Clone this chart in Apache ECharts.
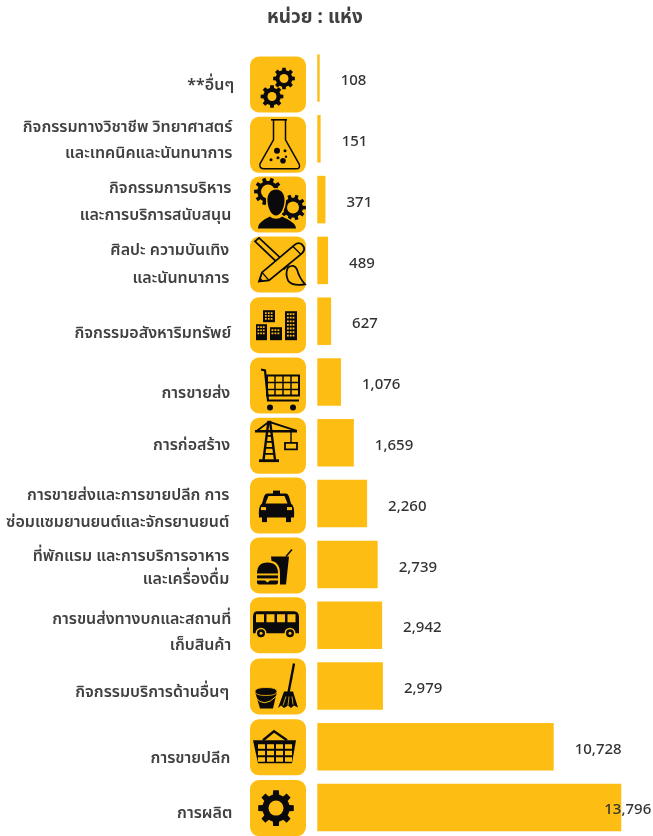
<!DOCTYPE html>
<html>
<head>
<meta charset="utf-8">
<title>หน่วย : แห่ง</title>
<script src="https://cdn.jsdelivr.net/npm/echarts@6/dist/echarts.min.js"></script>
<style>
  html, body { margin: 0; padding: 0; background: #fff; }
  #chart { width: 653px; height: 836px; }
</style>
</head>
<body>
<div id="chart"></div>
<script>
const categories = [
  '**อื่นๆ',
  'กิจกรรมทางวิชาชีพ วิทยาศาสตร์\nและเทคนิคและนันทนาการ',
  'กิจกรรมการบริหาร\nและการบริการสนับสนุน',
  'ศิลปะ ความบันเทิง\nและนันทนาการ',
  'กิจกรรมอสังหาริมทรัพย์',
  'การขายส่ง',
  'การก่อสร้าง',
  'การขายส่งและการขายปลีก การ\nซ่อมแซมยานยนต์และจักรยานยนต์',
  'ที่พักแรม และการบริการอาหาร\nและเครื่องดื่ม',
  'การขนส่งทางบกและสถานที่\nเก็บสินค้า',
  'กิจกรรมบริการด้านอื่นๆ',
  'การขายปลีก',
  'การผลิต',
];
const values = [108, 151, 371, 489, 627, 1076, 1659, 2260, 2739, 2942, 2979, 10728, 13796];

// hand placed in the original, so every row has its own small offset
const labelDrop = [7, 2, 2, 4, 12, 11, 3, 5, 3.5, 7, 6, 12, 6];
const labelGap = [83, 85, 86, 88, 86, 87, 87, 88, 88, 86, 88, 87, 85];
const lineGap = [0, 26, 27, 28, 0, 0, 0, 27, 23, 26, 0, 0, 0];
const iconDrop = [6.5, 6, 5, 4, 4, 3.5, 3, 2, 1, 0, 0.5, 0.5, 0.5];

const YELLOW = '#fdbd12';
const INK = '#0a0a0c';
const TEXT = '#404040';
const FONT = '"Noto Sans", "Noto Sans Thai", Tahoma, sans-serif';

// icon helpers, everything in a 56x56 box
function rect(x, y, w, h) {
  return `M${x} ${y}h${w}v${h}h${-w}Z`;
}
function circle(x, y, r) {
  return `M${x - r} ${y}a${r} ${r} 0 1 0 ${2 * r} 0a${r} ${r} 0 1 0 ${-2 * r} 0Z`;
}
function gear(x, y, r, n) {
  let d = '';
  const root = r * 0.76;
  const step = (Math.PI * 2) / n;
  for (let i = 0; i < n; i++) {
    const a = i * step;
    const pts = [
      [root, a - step * 0.5],
      [root, a - step * 0.3],
      [r, a - step * 0.2],
      [r, a + step * 0.2],
      [root, a + step * 0.3],
    ];
    pts.forEach((p, j) => {
      const px = (x + p[0] * Math.cos(p[1])).toFixed(2);
      const py = (y + p[0] * Math.sin(p[1])).toFixed(2);
      d += (i === 0 && j === 0 ? 'M' : 'L') + px + ' ' + py;
    });
  }
  return d + 'Z';
}
function cells(x, y, cols, rows, w, h, gx, gy) {
  let d = '';
  for (let r = 0; r < rows; r++) {
    for (let c = 0; c < cols; c++) {
      d += rect(x + c * (w + gx), y + r * (h + gy), w, h);
    }
  }
  return d;
}
const fill = (d) => ({ d, fill: INK });
const hole = (d) => ({ d, fill: YELLOW });
const line = (d, w) => ({ d, stroke: INK, w });
const cut = (d, w) => ({ d, stroke: YELLOW, w });

const person =
  'M26 13C32 13 35 18 34.5 25C34 32 30.5 39 26 39C21.5 39 18 32 17.5 25C17 18 20 13 26 13Z' +
  'M8 52C8 47 12 44 20 40C23 43 29 43 32 40C40 44 46 47 46 52Z';

const icons = [
  // gears
  [fill(gear(34, 22, 11, 8)), hole(circle(34, 22, 4.5)), fill(gear(22, 40, 11.5, 8)), hole(circle(22, 40, 4.5))],
  // flask
  [
    line('M21 3H37', 1.6),
    line('M23.5 3V23L10 47Q9 52 14 52H46Q51 52 49 47L35.5 23V3', 1.5),
    fill(circle(27, 34, 3)), fill(circle(33, 44, 2.8)), fill(circle(35, 34, 1.5)),
    fill(circle(21, 43, 1.5)), fill(circle(28, 41, 1.5)), fill(circle(36, 40, 1.2)),
  ],
  // person with gears
  [
    fill(gear(18, 15, 14, 10)), hole(circle(18, 15, 7)),
    fill(gear(43, 31, 13, 10)), hole(circle(43, 31, 6)),
    cut(person, 3), fill(person),
  ],
  // pencil and brush
  [
    line('M5 5L9 1.5L38 28.5L34 32.5Z', 1.8),
    { d: 'M38 31Q44 27 47 33Q49 41 55 48Q42 50 38 44Q35 37 38 31Z', fill: YELLOW, stroke: INK, w: 1.8 },
    { d: 'M9 45L12 36L44 9Q48 5 52 8L54 11Q55 14 52 17L19 44Z', fill: YELLOW, stroke: INK, w: 1.8 },
    line('M12 36L19 44M43 10L51 18', 1.4),
    fill('M9 45L10 41L13 44Z'),
  ],
  // buildings
  [
    fill(rect(13, 13, 12, 12)), hole(cells(15, 15, 3, 3, 1.7, 1.7, 1.2, 1.2)),
    cut(rect(6, 27, 11, 16), 2), fill(rect(6, 27, 11, 16)), hole(cells(7.5, 29, 3, 3, 1.7, 1.7, 1, 1.5)),
    fill(rect(20, 30, 12, 13)), hole(cells(21.5, 32, 3, 2, 1.8, 1.8, 1.2, 1.5)),
    fill(rect(35, 14, 12, 29)), hole(cells(37, 16, 3, 7, 1.8, 1.8, 1, 1.8)),
  ],
  // cart
  [
    line('M11 12L15 13L18 43H49', 2.2),
    line(rect(17, 18, 32, 20), 2),
    line('M25 18V38M33 18V38M41 18V38M17 25H49M17 32H49', 1.5),
    fill(circle(20, 50, 3)), fill(circle(43, 50, 3)),
  ],
  // crane
  [
    line('M5 13.5H47', 2.6),
    line('M7 13L19 4L47 13', 1.8),
    line('M18.5 3L13.5 42M20 3L25 42', 2.4),
    line('M17 18H21M16.5 24H22M15.5 30H23M15 36H24', 1.8),
    fill(rect(9, 41.5, 20, 2.8)),
    line('M41 14V25', 1.4),
    line(rect(35, 25, 12, 6.5), 1.8),
  ],
  // taxi
  [
    fill(rect(23, 13, 7, 4)),
    fill('M17 16H36Q38 16 39 19L41 26Q45 28 44 40H9Q8 28 12 26L14 19Q15 16 17 16Z'),
    fill(rect(12, 39, 5, 5.5)), fill(rect(36, 39, 5, 5.5)),
    hole('M18.5 18.5H34.5L37.5 26H15.5Z'),
    hole(rect(11, 29.5, 5, 3)), hole(rect(37, 29.5, 5, 3)),
  ],
  // burger and drink
  [
    line('M36 19L42 12', 1.5),
    fill('M21 19H39L36 47H24Z'),
    hole('M5 38Q5 23 17.5 23Q30 23 30 36V49H5Z'),
    fill('M7 36Q7 25 17.5 25Q28 25 28 36Z'),
    fill(rect(7, 38, 21, 3)),
    fill('M7 43H15L17.5 45L20 43H28V45Q28 47 26 47H9Q7 47 7 45Z'),
  ],
  // bus
  [
    fill('M7 14H44Q49 14 49 20V36H3V20Q3 14 7 14Z'),
    hole(cells(6, 17, 4, 1, 8, 8, 2.5, 0)),
    hole(circle(11, 36, 5.5)), fill(circle(11, 36, 4)), hole(circle(11, 36, 1.5)),
    hole(circle(40, 36, 5.5)), fill(circle(40, 36, 4)), hole(circle(40, 36, 1.5)),
  ],
  // bucket and mop
  [
    fill('M5 33L10 50H23L27 33Z'),
    { d: 'M5 33Q5 29 16 29Q27 29 27 33Q27 37 16 37Q5 37 5 33Z', fill: INK, stroke: YELLOW, w: 0.8 },
    cut('M5.5 39Q14 50 26 38', 1),
    line('M44 5L38.5 34', 2.4),
    fill('M34 33H43L48 49L44 47L41 49.5L38 47L34 49.5L31 47L28 49.5Z'),
    cut('M36 38L33 47M39 38L38 47M42 38L43 46', 0.8),
  ],
  // basket
  [
    line('M13 21L24 12L37 21', 2.4),
    fill('M3 21H46L42 44H8Z'),
    hole(cells(8, 25, 4, 3, 7, 4.5, 2, 2)),
  ],
  // big gear
  [fill(gear(26, 28, 18, 8)), hole(circle(26, 28, 7.5))],
];

// register each path once so custom series can use it at its own size
const shapeNames = new Map();
function shapeName(d) {
  if (!shapeNames.has(d)) {
    const name = 'iconPath' + shapeNames.size;
    echarts.graphic.registerShape(name, echarts.graphic.extendPath(d, {}));
    shapeNames.set(d, name);
  }
  return shapeNames.get(d);
}

function renderRow(params, api) {
  const i = params.dataIndex;
  const pt = api.coord([0, i]);
  const children = [];

  categories[i].split('\n').forEach((text, n, all) => {
    const mid = pt[1] + labelDrop[i];
    children.push({
      type: 'text',
      style: {
        text,
        x: pt[0] - labelGap[i],
        y: all.length > 1 ? mid + (n === 0 ? -0.5 : 0.5) * lineGap[i] : mid,
        textAlign: 'right',
        textVerticalAlign: 'middle',
        font: `600 16px ${FONT}`,
        fill: TEXT,
      },
    });
  });

  const iconChildren = [
    { type: 'rect', shape: { x: 0, y: 0, width: 56, height: 56, r: 9 }, style: { fill: YELLOW } },
  ];
  icons[i].forEach((op) => {
    iconChildren.push({
      type: shapeName(op.d),
      style: {
        fill: op.fill || 'none',
        stroke: op.stroke || 'none',
        lineWidth: op.w || 0,
      },
    });
  });
  children.push({
    type: 'group',
    x: pt[0] - 67.3,
    y: pt[1] + iconDrop[i] - 28,
    children: iconChildren,
  });

  return { type: 'group', children };
}

const chart = echarts.init(document.getElementById('chart'));
chart.setOption({
  animation: false,
  title: {
    text: 'หน่วย : แห่ง',
    left: 262,
    top: 3,
    textStyle: { fontFamily: FONT, fontSize: 19, fontWeight: 'bold', color: TEXT },
  },
  grid: { left: 317.3, top: 47.6, width: 330.5, height: 790.4, outerBoundsMode: 'none' },
  xAxis: { type: 'value', min: 0, max: 15000, show: false },
  yAxis: { type: 'category', inverse: true, data: categories, show: false },
  series: [
    {
      type: 'bar',
      barWidth: 47.5,
      itemStyle: { color: YELLOW },
      label: {
        show: true,
        position: 'right',
        distance: 21,
        offset: [0, 3],
        fontFamily: FONT,
        fontSize: 15,
        fontWeight: 500,
        color: '#333333',
        formatter: (p) => p.value.toLocaleString('en-US'),
      },
      data: values.map((v, i) =>
        // the last number sits on top of its bar in the original
        i === values.length - 1 ? { value: v, label: { offset: [-38, 2] } } : v
      ),
    },
    {
      type: 'custom',
      silent: true,
      renderItem: renderRow,
      data: values.map((v, i) => [0, i]),
    },
  ],
});
</script>
</body>
</html>
